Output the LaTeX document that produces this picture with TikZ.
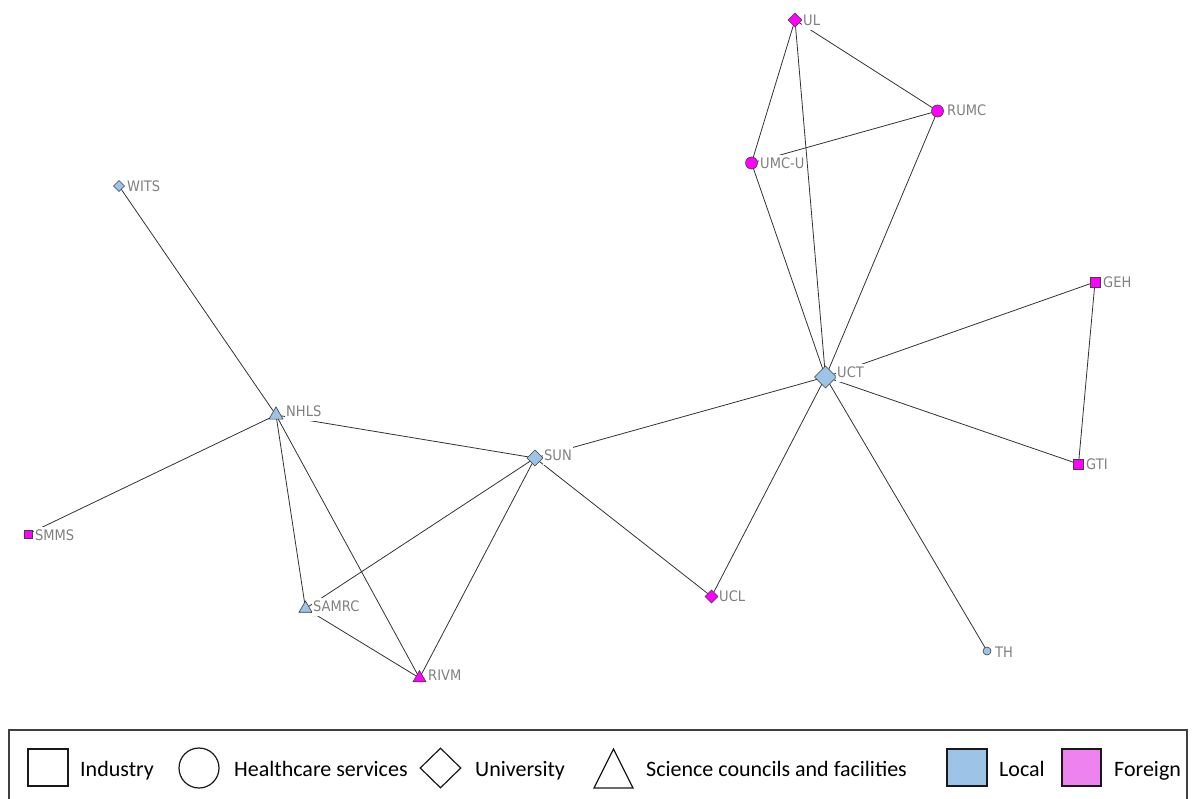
\documentclass[tikz,border=0pt]{standalone}
\usepackage{fontspec}
\setmainfont{Carlito}
\newfontfamily\labfont{DejaVu Sans Condensed}
\usetikzlibrary{shapes.geometric}
\definecolor{loccol}{RGB}{157,195,230}
\definecolor{frncol}{RGB}{255,0,255}
\definecolor{frnleg}{RGB}{238,130,238}
\definecolor{labgray}{RGB}{128,128,128}
\pgfdeclarelayer{bg}
\pgfsetlayers{bg,main}
\tikzset{
  netnode/.style={draw=black!75, line width=0.6pt, inner sep=0pt, outer sep=0pt},
  uni/.style={netnode, diamond, minimum width=#1, minimum height=#1},
  hc/.style={netnode, circle, minimum size=#1},
  ind/.style={netnode, rectangle, minimum size=#1},
  sci/.style={netnode, regular polygon, regular polygon sides=3, minimum size=#1},
  locn/.style={fill=loccol},
  frn/.style={fill=frncol},
  lab/.style={font=\labfont\fontsize{14.5}{14.5}\selectfont, text=labgray, fill=white,
    inner sep=1pt, text height=12.5pt, text depth=3.5pt, anchor=base west},
  link/.style={draw=black!80, line width=0.8pt},
  legshape/.style={draw=black!90, line width=1.2pt, inner sep=0pt},
  legtext/.style={font=\fontsize{22}{24}\selectfont, anchor=base west, inner sep=0pt},
}
\begin{document}
\begin{tikzpicture}[x=1pt,y=-1pt]
\useasboundingbox (0,0) rectangle (1196,798);

% nodes
\node[uni=14, frn]  (UL)   at (795,20) {};
\node[hc=12, frn]   (RUMC) at (937.5,111) {};
\node[hc=12, frn]   (UMCU) at (751.5,163) {};
\node[ind=10, frn]  (GEH)  at (1095,282) {};
\node[uni=22, locn] (UCT)  at (825.5,377) {};
\node[ind=10, frn]  (GTI)  at (1078.5,464) {};
\node[hc=8, locn]   (TH)   at (987,651) {};
\node[uni=13, frn]  (UCL)  at (711.5,596.5) {};
\node[uni=16, locn] (SUN)  at (535,458) {};
\node[sci=16.2, locn] (NHLS) at (276,415) {};
\node[sci=15, locn] (SAMRC) at (305.5,608.5) {};
\node[sci=15, frn]  (RIVM) at (419.5,678) {};
\node[uni=11, locn] (WITS) at (119,186) {};
\node[ind=8, frn]   (SMMS) at (28,534) {};

% edges
\begin{pgfonlayer}{bg}
\fill[white] (0,0) rectangle (1196,798);
\draw[link] (UL.center) -- (RUMC.center);
\draw[link] (UL.center) -- (UMCU.center);
\draw[link] (UL.center) -- (UCT.center);
\draw[link] (RUMC.center) -- (UMCU.center);
\draw[link] (RUMC.center) -- (UCT.center);
\draw[link] (UMCU.center) -- (UCT.center);
\draw[link] (UCT.center) -- (GEH.center);
\draw[link] (UCT.center) -- (GTI.center);
\draw[link] (GEH.center) -- (GTI.center);
\draw[link] (UCT.center) -- (TH.center);
\draw[link] (UCT.center) -- (UCL.center);
\draw[link] (UCT.center) -- (SUN.center);
\draw[link] (SUN.center) -- (UCL.center);
\draw[link] (SUN.center) -- (NHLS.center);
\draw[link] (SUN.center) -- (SAMRC.center);
\draw[link] (SUN.center) -- (RIVM.center);
\draw[link] (NHLS.center) -- (WITS.center);
\draw[link] (NHLS.center) -- (SMMS.center);
\draw[link] (NHLS.center) -- (SAMRC.center);
\draw[link] (NHLS.center) -- (RIVM.center);
\draw[link] (SAMRC.center) -- (RIVM.center);
\end{pgfonlayer}

% labels (baseline = centre + 5)
\node[lab] (ULl)    at (802,25.5)  {UL};
\node[lab] (RUMCl)  at (946,115.5) {RUMC};
\node[lab] (UMCUl)  at (759,168.5) {UMC-U};
\node[lab] (GEHl)   at (1102,287.5) {GEH};
\node[lab] (UCTl)   at (836,377.5) {UCT};
\node[lab] (GTIl)   at (1085,469.5) {GTI};
\node[lab] (THl)    at (994,657.5) {TH};
\node[lab] (UCLl)   at (718,601.5) {UCL};
\node[lab] (SUNl)   at (543,460.5) {SUN};
\node[lab] (NHLSl)  at (285,416.5) {NHLS};
\node[lab] (SAMRCl) at (312,611.5) {SAMRC};
\node[lab] (RIVMl)  at (427,680.5) {RIVM};
\node[lab] (WITSl)  at (126,191.5) {WITS};
\node[lab] (SMMSl)  at (34,540.5)  {SMMS};

% legend
\draw[draw=black!75, line width=1.3pt] (9,730) rectangle (1187,805);
\node[legshape, rectangle, minimum width=40, minimum height=37] (lgind) at (48,767.5) {};
\node[legtext] (lgindt) at (80,776) {Industry};
\node[legshape, circle, minimum width=38, minimum height=40] (lghc) at (199,768) {};
\node[legtext] (lghct) at (234,776) {Healthcare services};
\node[legshape, diamond, minimum width=41, minimum height=40] (lguni) at (440.5,768) {};
\node[legtext] (lgunit) at (475,776) {University};
\draw[legshape] (594,788) -- (613.5,749) -- (633,788) -- cycle;
\node[legtext] (lgscit) at (646,776) {Science councils and facilities};
\node[legshape, rectangle, fill=loccol, minimum width=40, minimum height=37] (lgloc) at (967,767.5) {};
\node[legtext] (lgloct) at (999,776) {Local};
\node[legshape, rectangle, fill=frnleg, minimum width=39, minimum height=37] (lgfrn) at (1081.5,767.5) {};
\node[legtext] (lgfrnt) at (1114,776) {Foreign};
\end{tikzpicture}
\end{document}
